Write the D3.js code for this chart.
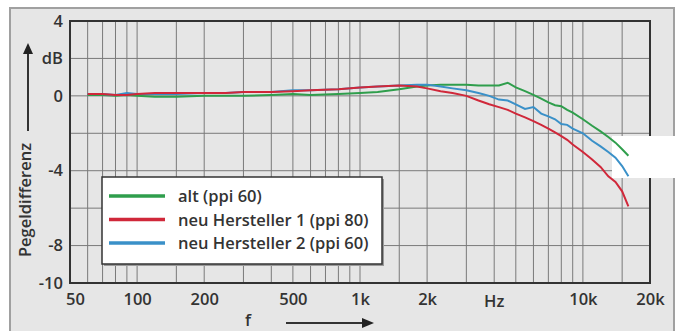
<!DOCTYPE html>
<html>
<head>
<meta charset="utf-8">
<script src="https://cdn.jsdelivr.net/npm/d3@7"></script>
<style>
  body { margin: 0; background: #fff; }
  text { font-family: "Open Sans", sans-serif; font-weight: 600; fill: #333; }
</style>
</head>
<body>
<div id="chart"></div>
<script>
// frequencies (Hz) and level difference (dB) per cable
const freqs = [60, 70, 80, 90, 100, 120, 150, 200, 250, 300, 400, 500, 600, 800, 1000, 1200, 1500, 1800, 2000, 2300, 2600, 3000, 3400, 3800, 4200, 4600, 5000, 5500, 6000, 6500, 7000, 7500, 8000, 8500, 9000, 10000, 11000, 12000, 13000, 14000, 15000, 16000];
const alt   = [0.05, 0.05, 0.0, 0.05, 0.0, -0.05, -0.05, 0.0, 0.0, 0.0, 0.05, 0.1, 0.05, 0.1, 0.15, 0.2, 0.35, 0.5, 0.55, 0.6, 0.6, 0.6, 0.55, 0.55, 0.55, 0.7, 0.45, 0.25, 0.05, -0.15, -0.35, -0.5, -0.55, -0.75, -0.9, -1.25, -1.6, -1.9, -2.2, -2.5, -2.85, -3.2];
const neu1  = [0.1, 0.1, 0.05, 0.05, 0.1, 0.15, 0.15, 0.15, 0.15, 0.2, 0.2, 0.25, 0.3, 0.35, 0.45, 0.5, 0.55, 0.5, 0.4, 0.25, 0.15, 0.0, -0.25, -0.45, -0.6, -0.75, -0.95, -1.15, -1.35, -1.55, -1.75, -1.95, -2.15, -2.35, -2.6, -3.0, -3.4, -3.8, -4.3, -4.6, -5.1, -5.9];
const neu2  = [0.1, 0.1, 0.05, 0.15, 0.1, 0.1, 0.1, 0.15, 0.15, 0.2, 0.2, 0.3, 0.3, 0.35, 0.45, 0.5, 0.55, 0.6, 0.6, 0.5, 0.4, 0.3, 0.15, 0.0, -0.2, -0.25, -0.45, -0.7, -0.6, -0.95, -1.1, -1.25, -1.5, -1.55, -1.75, -2.0, -2.4, -2.7, -3.0, -3.3, -3.75, -4.3];

const seriesNames = ["alt (ppi 60)", "neu Hersteller 1 (ppi 80)", "neu Hersteller 2 (ppi 60)"];
const seriesColors = ["#2f9e4c", "#d0283a", "#3a90c8"];

const gridFreqs = [60, 70, 80, 90, 100, 150, 200, 300, 400, 500, 600, 700, 800, 900, 1000, 1500, 2000, 3000, 4000, 5000, 6000, 7000, 8000, 9000, 10000, 15000];
const xTickVals = [50, 100, 200, 500, 1000, 2000, 10000, 20000];
const xTickText = ["50", "100", "200", "500", "1k", "2k", "10k", "20k"];
const yTickVals = [4, 2, 0, -4, -8, -10];
const yTickText = ["4", "dB", "0", "-4", "-8", "-10"];
const yGrid = [2, 0, -2, -4, -6, -8];

const W = 682, H = 331;
const margin = {top: 21, right: 32, bottom: 48, left: 70};
const width = W - margin.left - margin.right,
      height = H - margin.top - margin.bottom;
const fs = 16.5;

const svg = d3.select("#chart").append("svg")
  .attr("width", W).attr("height", H);

// outer frame
svg.append("rect")
  .attr("x", 10).attr("y", 8).attr("width", 664).attr("height", 340)
  .attr("fill", "#e6e6e6").attr("stroke", "#a0a0a0").attr("stroke-width", 2);

const g = svg.append("g").attr("transform", `translate(${margin.left},${margin.top})`);

const x = d3.scaleLog().domain([50, 20000]).range([0, width]);
const y = d3.scaleLinear().domain([-10, 4]).range([height, 0]);

// grid
g.selectAll(".vgrid").data(gridFreqs).join("line")
  .attr("x1", d => x(d)).attr("x2", d => x(d))
  .attr("y1", 0).attr("y2", height)
  .attr("stroke", "#7a7a7a").attr("stroke-width", 1);
g.selectAll(".hgrid").data(yGrid).join("line")
  .attr("x1", 0).attr("x2", width)
  .attr("y1", d => y(d)).attr("y2", d => y(d))
  .attr("stroke", "#7a7a7a").attr("stroke-width", 1);

// plot border
g.append("rect").attr("width", width).attr("height", height)
  .attr("fill", "none").attr("stroke", "#333").attr("stroke-width", 2);

// axes via d3 axis, then strip the lines
const xAxis = g.append("g").attr("transform", `translate(0,${height})`)
  .call(d3.axisBottom(x).tickValues(xTickVals).tickSize(0).tickPadding(10)
    .tickFormat((d, i) => xTickText[i]));
xAxis.select(".domain").remove();
xAxis.selectAll("text").attr("font-size", fs).style("font-family", "Open Sans").attr("fill", "#333");
xAxis.selectAll(".tick").filter(d => d === 50).select("text").attr("dx", 5);

const yAxis = g.append("g")
  .call(d3.axisLeft(y).tickValues(yTickVals).tickSize(0).tickPadding(7)
    .tickFormat((d, i) => yTickText[i]));
yAxis.select(".domain").remove();
yAxis.selectAll("text").attr("font-size", fs).style("font-family", "Open Sans").attr("fill", "#333");

// Hz unit label
g.append("text").attr("x", x(4000)).attr("y", height + 24)
  .attr("text-anchor", "middle").attr("font-size", fs).text("Hz");

// white patch at right (under the curve ends)
g.append("rect").attr("x", 612 - margin.left).attr("y", 136 - margin.top)
  .attr("width", 70).attr("height", 42).attr("fill", "#fff");

// curves
const line = d3.line().x(d => x(d[0])).y(d => y(d[1]));
[[alt, 0], [neu2, 2], [neu1, 1]].forEach(([vals, idx]) => {
  g.append("path")
    .datum(freqs.map((f, i) => [f, vals[i]]))
    .attr("d", line)
    .attr("fill", "none")
    .attr("stroke", seriesColors[idx])
    .attr("stroke-width", 2);
});

// legend
const lg = g.append("g").attr("transform", `translate(${102 - margin.left},${177 - margin.top})`);
lg.append("rect").attr("x", 2).attr("y", 2).attr("width", 280).attr("height", 87).attr("fill", "#9a9a9a");
lg.append("rect").attr("width", 280).attr("height", 87)
  .attr("fill", "#fff").attr("stroke", "#333").attr("stroke-width", 1.5);
seriesNames.forEach((name, i) => {
  const yy = 19 + i * 23.5;
  lg.append("line").attr("x1", 7).attr("x2", 63).attr("y1", yy).attr("y2", yy)
    .attr("stroke", seriesColors[i]).attr("stroke-width", 3.5);
  lg.append("text").attr("x", 76).attr("y", yy + 6).attr("font-size", fs).text(name);
});

// y title with arrow
svg.append("text")
  .attr("transform", "translate(31,200) rotate(-90)")
  .attr("text-anchor", "middle").attr("font-size", fs).text("Pegeldifferenz");
svg.append("line").attr("x1", 28).attr("x2", 28).attr("y1", 131).attr("y2", 52)
  .attr("stroke", "#333").attr("stroke-width", 2);
svg.append("path").attr("d", "M23,54 L33,54 L28,43 Z").attr("fill", "#222");

// x title with arrow
svg.append("text").attr("x", 248).attr("y", 326).attr("text-anchor", "middle")
  .attr("font-size", fs).text("f");
svg.append("line").attr("x1", 286).attr("x2", 364).attr("y1", 323).attr("y2", 323)
  .attr("stroke", "#333").attr("stroke-width", 2);
svg.append("path").attr("d", "M362,318 L362,328 L374,323 Z").attr("fill", "#222");
</script>
</body>
</html>
